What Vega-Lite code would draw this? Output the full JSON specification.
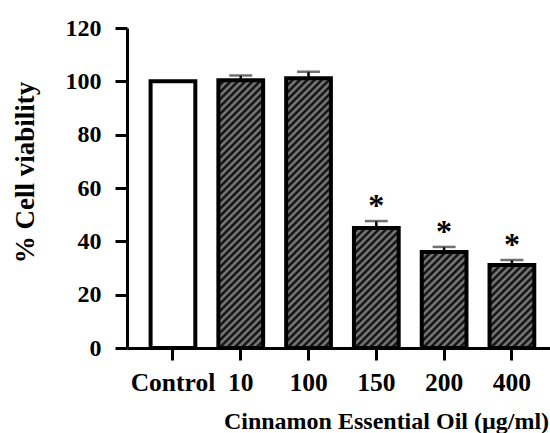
{
  "$schema": "https://vega.github.io/schema/vega-lite/v6.json",
  "width": 423,
  "height": 320,
  "autosize": "none",
  "padding": {"left": 127, "top": 28, "right": 0, "bottom": 85},
  "background": "white",
  "config": {
    "view": {"stroke": null},
    "font": "Liberation Serif",
    "axis": {
      "domainColor": "black", "domainWidth": 3,
      "tickColor": "black", "tickWidth": 3, "tickSize": 12,
      "labelFont": "Liberation Serif", "labelFontWeight": "bold", "labelFontSize": 24, "labelColor": "black",
      "titleFont": "Liberation Serif", "titleFontWeight": "bold", "titleFontSize": 24, "titleColor": "black",
      "grid": false
    }
  },
  "data": {
    "values": [
      {"group": "Control", "mean": 100, "upper": null, "hatched": false, "sig": ""},
      {"group": "10", "mean": 100.4, "upper": 102.2, "hatched": true, "sig": ""},
      {"group": "100", "mean": 101.2, "upper": 103.6, "hatched": true, "sig": ""},
      {"group": "150", "mean": 45, "upper": 47.6, "hatched": true, "sig": "*"},
      {"group": "200", "mean": 36, "upper": 37.9, "hatched": true, "sig": "*"},
      {"group": "400", "mean": 31.1, "upper": 33, "hatched": true, "sig": "*"}
    ]
  },
  "encoding": {
    "x": {
      "field": "group", "type": "nominal",
      "sort": ["Control", "10", "100", "150", "200", "400"],
      "scale": {"paddingInner": 0.34, "paddingOuter": 0.29, "align": 0.6},
      "axis": {
        "labelAngle": 0, "labelPadding": 30, "labelBaseline": "alphabetic", "labelFontSize": 25.5,
        "title": "Cinnamon Essential Oil (µg/ml)",
        "titleX": 259, "titleY": 80, "titleBaseline": "alphabetic", "titleAlign": "center"
      }
    }
  },
  "layer": [
    {
      "transform": [{"filter": "datum.hatched"}],
      "mark": {
        "type": "bar",
        "fill": {
          "gradient": "linear", "x1": 0, "y1": 0, "x2": 0.156, "y2": 1.118,
          "stops": [
            {"offset": 0.00, "color": "#000"}, {"offset": 0.01, "color": "#8a8a8a"},
            {"offset": 0.02, "color": "#000"}, {"offset": 0.03, "color": "#8a8a8a"},
            {"offset": 0.04, "color": "#000"}, {"offset": 0.05, "color": "#8a8a8a"},
            {"offset": 0.06, "color": "#000"}, {"offset": 0.07, "color": "#8a8a8a"},
            {"offset": 0.08, "color": "#000"}, {"offset": 0.09, "color": "#8a8a8a"},
            {"offset": 0.10, "color": "#000"}, {"offset": 0.11, "color": "#8a8a8a"},
            {"offset": 0.12, "color": "#000"}, {"offset": 0.13, "color": "#8a8a8a"},
            {"offset": 0.14, "color": "#000"}, {"offset": 0.15, "color": "#8a8a8a"},
            {"offset": 0.16, "color": "#000"}, {"offset": 0.17, "color": "#8a8a8a"},
            {"offset": 0.18, "color": "#000"}, {"offset": 0.19, "color": "#8a8a8a"},
            {"offset": 0.20, "color": "#000"}, {"offset": 0.21, "color": "#8a8a8a"},
            {"offset": 0.22, "color": "#000"}, {"offset": 0.23, "color": "#8a8a8a"},
            {"offset": 0.24, "color": "#000"}, {"offset": 0.25, "color": "#8a8a8a"},
            {"offset": 0.26, "color": "#000"}, {"offset": 0.27, "color": "#8a8a8a"},
            {"offset": 0.28, "color": "#000"}, {"offset": 0.29, "color": "#8a8a8a"},
            {"offset": 0.30, "color": "#000"}, {"offset": 0.31, "color": "#8a8a8a"},
            {"offset": 0.32, "color": "#000"}, {"offset": 0.33, "color": "#8a8a8a"},
            {"offset": 0.34, "color": "#000"}, {"offset": 0.35, "color": "#8a8a8a"},
            {"offset": 0.36, "color": "#000"}, {"offset": 0.37, "color": "#8a8a8a"},
            {"offset": 0.38, "color": "#000"}, {"offset": 0.39, "color": "#8a8a8a"},
            {"offset": 0.40, "color": "#000"}, {"offset": 0.41, "color": "#8a8a8a"},
            {"offset": 0.42, "color": "#000"}, {"offset": 0.43, "color": "#8a8a8a"},
            {"offset": 0.44, "color": "#000"}, {"offset": 0.45, "color": "#8a8a8a"},
            {"offset": 0.46, "color": "#000"}, {"offset": 0.47, "color": "#8a8a8a"},
            {"offset": 0.48, "color": "#000"}, {"offset": 0.49, "color": "#8a8a8a"},
            {"offset": 0.50, "color": "#000"}, {"offset": 0.51, "color": "#8a8a8a"},
            {"offset": 0.52, "color": "#000"}, {"offset": 0.53, "color": "#8a8a8a"},
            {"offset": 0.54, "color": "#000"}, {"offset": 0.55, "color": "#8a8a8a"},
            {"offset": 0.56, "color": "#000"}, {"offset": 0.57, "color": "#8a8a8a"},
            {"offset": 0.58, "color": "#000"}, {"offset": 0.59, "color": "#8a8a8a"},
            {"offset": 0.60, "color": "#000"}, {"offset": 0.61, "color": "#8a8a8a"},
            {"offset": 0.62, "color": "#000"}, {"offset": 0.63, "color": "#8a8a8a"},
            {"offset": 0.64, "color": "#000"}, {"offset": 0.65, "color": "#8a8a8a"},
            {"offset": 0.66, "color": "#000"}, {"offset": 0.67, "color": "#8a8a8a"},
            {"offset": 0.68, "color": "#000"}, {"offset": 0.69, "color": "#8a8a8a"},
            {"offset": 0.70, "color": "#000"}, {"offset": 0.71, "color": "#8a8a8a"},
            {"offset": 0.72, "color": "#000"}, {"offset": 0.73, "color": "#8a8a8a"},
            {"offset": 0.74, "color": "#000"}, {"offset": 0.75, "color": "#8a8a8a"},
            {"offset": 0.76, "color": "#000"}, {"offset": 0.77, "color": "#8a8a8a"},
            {"offset": 0.78, "color": "#000"}, {"offset": 0.79, "color": "#8a8a8a"},
            {"offset": 0.80, "color": "#000"}, {"offset": 0.81, "color": "#8a8a8a"},
            {"offset": 0.82, "color": "#000"}, {"offset": 0.83, "color": "#8a8a8a"},
            {"offset": 0.84, "color": "#000"}, {"offset": 0.85, "color": "#8a8a8a"},
            {"offset": 0.86, "color": "#000"}, {"offset": 0.87, "color": "#8a8a8a"},
            {"offset": 0.88, "color": "#000"}, {"offset": 0.89, "color": "#8a8a8a"},
            {"offset": 0.90, "color": "#000"}, {"offset": 0.91, "color": "#8a8a8a"},
            {"offset": 0.92, "color": "#000"}, {"offset": 0.93, "color": "#8a8a8a"},
            {"offset": 0.94, "color": "#000"}, {"offset": 0.95, "color": "#8a8a8a"},
            {"offset": 0.96, "color": "#000"}, {"offset": 0.97, "color": "#8a8a8a"},
            {"offset": 0.98, "color": "#000"}, {"offset": 0.99, "color": "#8a8a8a"},
            {"offset": 1.00, "color": "#000"}
          ]
        }
      },
      "encoding": {
        "y": {"datum": 120, "type": "quantitative"},
        "y2": {"datum": 0}
      }
    },
    {
      "transform": [{"filter": "datum.hatched"}],
      "mark": {"type": "bar", "fill": "white", "stroke": "white", "strokeWidth": 2},
      "encoding": {
        "y": {"field": "mean", "type": "quantitative"},
        "y2": {"datum": 120}
      }
    },
    {
      "mark": {"type": "bar", "fill": "transparent", "stroke": "black", "strokeWidth": 4},
      "encoding": {
        "y": {
          "field": "mean", "type": "quantitative",
          "scale": {"domain": [0, 120], "nice": false},
          "axis": {
            "values": [0, 20, 40, 60, 80, 100, 120],
            "labelPadding": 14,
            "title": "% Cell viability",
            "titleFontSize": 27,
            "titleX": -94, "titleY": 144, "titleBaseline": "alphabetic", "titleAlign": "center", "titleAngle": -90
          }
        }
      }
    },
    {
      "transform": [{"filter": "datum.upper != null"}],
      "mark": {"type": "rule", "color": "black", "strokeWidth": 2.5},
      "encoding": {
        "y": {"field": "mean", "type": "quantitative"},
        "y2": {"field": "upper"}
      }
    },
    {
      "transform": [{"filter": "datum.upper != null"}],
      "mark": {"type": "tick", "color": "#333", "size": 23, "thickness": 2.5},
      "encoding": {
        "y": {"field": "upper", "type": "quantitative"}
      }
    },
    {
      "transform": [{"filter": "datum.sig != ''"}],
      "mark": {"type": "text", "font": "Liberation Serif", "fontWeight": "bold", "fontSize": 32, "baseline": "alphabetic", "dy": -5, "color": "black"},
      "encoding": {
        "y": {"field": "upper", "type": "quantitative"},
        "text": {"field": "sig"}
      }
    }
  ]
}
